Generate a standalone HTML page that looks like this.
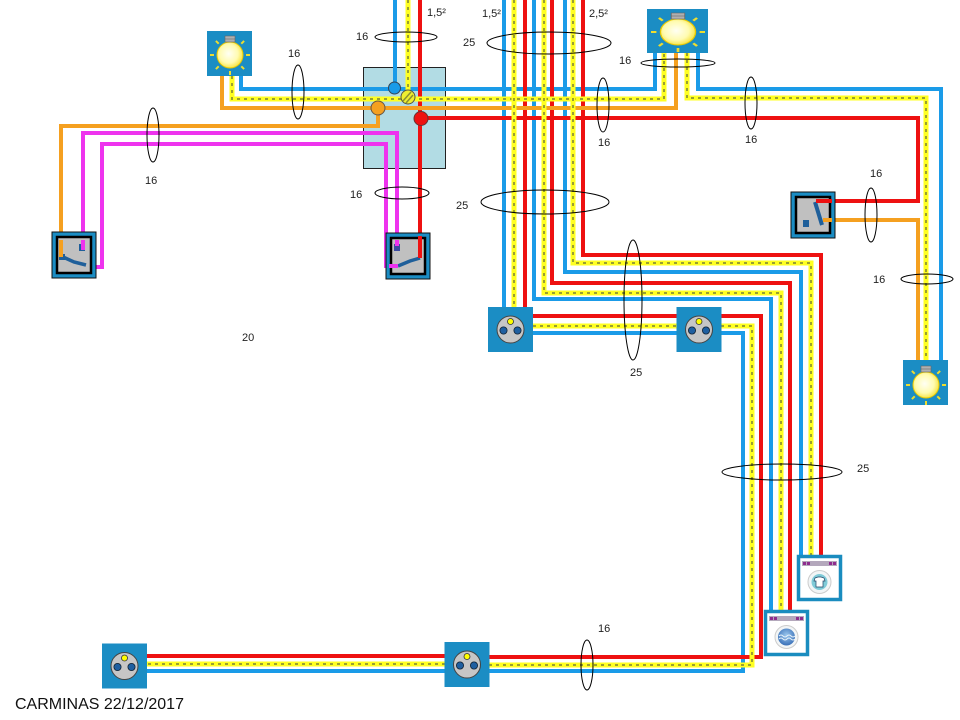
<!DOCTYPE html>
<html><head><meta charset="utf-8">
<style>
html,body{margin:0;padding:0;background:#fff;}
svg{display:block;}
.w{fill:none;stroke-width:4;stroke-linejoin:miter;stroke-linecap:butt;}
.b{stroke:#1a9be8;}
.r{stroke:#ee1111;}
.o{stroke:#f5a020;}
.m{stroke:#ee33ee;}
.y{fill:none;stroke:#ffff22;stroke-width:5;}
.yd{fill:none;stroke:#9aa030;stroke-width:2;stroke-dasharray:3 4;}
.e{fill:none;stroke:#000;stroke-width:1;}
text{font-family:"Liberation Sans",Arial,sans-serif;font-size:11px;fill:#222;}
</style></head>
<body>
<svg width="960" height="720" viewBox="0 0 960 720" xmlns="http://www.w3.org/2000/svg">
<defs>
  <radialGradient id="bg" cx="0.45" cy="0.45" r="0.6">
    <stop offset="0" stop-color="#fffff4"/>
    <stop offset="0.6" stop-color="#fffbb0"/>
    <stop offset="1" stop-color="#f6e030"/>
  </radialGradient>
  <radialGradient id="wg" cx="0.5" cy="0.4" r="0.6">
    <stop offset="0" stop-color="#9cc8ee"/>
    <stop offset="1" stop-color="#3a70b8"/>
  </radialGradient>
  <g id="bulb">
    <g stroke="#eedd30" stroke-width="2">
      <line x1="16" y1="0" x2="20" y2="0"/>
      <line x1="11.3" y1="11.3" x2="14.1" y2="14.1"/>
      <line x1="0" y1="16" x2="0" y2="20"/>
      <line x1="-11.3" y1="11.3" x2="-14.1" y2="14.1"/>
      <line x1="-16" y1="0" x2="-20" y2="0"/>
      <line x1="-11.3" y1="-11.3" x2="-14.1" y2="-14.1"/>
      <line x1="11.3" y1="-11.3" x2="14.1" y2="-14.1"/>
    </g>
    <circle r="13" fill="url(#bg)" stroke="#e8c800" stroke-width="1"/>
    <rect x="-5" y="-19" width="10" height="6" fill="#b0b0b0" stroke="#666" stroke-width="0.6"/>
    <line x1="-5" y1="-16" x2="5" y2="-16" stroke="#666" stroke-width="0.6"/>
  </g>
  <g id="outlet">
    <rect x="-22.5" y="-22.5" width="45" height="45" fill="#1b8dc4"/>
    <circle r="13.5" fill="#c6c6c6" stroke="#444" stroke-width="1"/>
    <circle cx="-7" cy="1" r="3.6" fill="#1f5fa0" stroke="#123" stroke-width="0.8"/>
    <circle cx="7" cy="1" r="3.6" fill="#1f5fa0" stroke="#123" stroke-width="0.8"/>
    <circle cx="0" cy="-8" r="3" fill="#ffff00" stroke="#333" stroke-width="0.8"/>
  </g>
  <g id="sw">
    <rect x="0" y="0" width="44" height="46" fill="#1b8dc4" stroke="#111" stroke-width="1"/>
    <rect x="5" y="5" width="34" height="36" fill="#c0c0c0" stroke="#000" stroke-width="2.5"/>
  </g>
</defs>

<!-- junction box -->
<rect x="363.5" y="67.5" width="82" height="101" fill="#b2dce4" stroke="#222" stroke-width="1"/>

<!-- wires: blue -->
<path class="w b" d="M241,76 V89 H655 V53"/>
<path class="w b" d="M395,0 V88"/>
<path class="w b" d="M698,53 V89 H941 V360"/>
<path class="w b" d="M504,0 V307"/>
<path class="w b" d="M534,0 V299 H771 V610"/>
<path class="w b" d="M565,0 V272 H801 V555"/>
<path class="w b" d="M533,333 H677"/>
<path class="w b" d="M721,333 H743 V671 H489"/>
<path class="w b" d="M445,671 H147"/>

<!-- red -->
<path class="w r" d="M420,0 V258"/>
<path class="w r" d="M421,118 H918 V201 H815"/>
<path class="w r" d="M525,0 V307"/>
<path class="w r" d="M552,0 V283 H790 V610"/>
<path class="w r" d="M583,0 V255 H821 V555"/>
<path class="w r" d="M533,316 H677"/>
<path class="w r" d="M721,316 H761 V657 H489"/>
<path class="w r" d="M445,656 H147"/>

<!-- orange -->
<path class="w o" d="M222,76 V108 H676 V53"/>
<path class="w o" d="M378,108 V126 H61 V257"/>
<path class="w o" d="M823,220 H918 V360"/>

<!-- magenta -->
<path class="w m" d="M83,250 V133 H397 V247"/>
<path class="w m" d="M85,267 H102 V144 H386 V266 H398"/>

<!-- yellow/green -->
<g>
<path class="y" d="M232,76 V99 H664 V53"/><path class="yd" d="M232,76 V99 H664 V53"/>
<path class="y" d="M408,0 V97"/><path class="yd" d="M408,0 V97"/>
<path class="y" d="M687,53 V98 H926 V360"/><path class="yd" d="M687,53 V98 H926 V360"/>
<path class="y" d="M514,0 V307"/><path class="yd" d="M514,0 V307"/>
<path class="y" d="M544,0 V293 H781 V610"/><path class="yd" d="M544,0 V293 H781 V610"/>
<path class="y" d="M573,0 V263 H811 V555"/><path class="yd" d="M573,0 V263 H811 V555"/>
<path class="y" d="M533,326 H677"/><path class="yd" d="M533,326 H677"/>
<path class="y" d="M721,326 H752 V665 H489"/><path class="yd" d="M721,326 H752 V665 H489"/>
<path class="y" d="M445,664 H147"/><path class="yd" d="M445,664 H147"/>
</g>

<!-- junction dots -->
<circle cx="394.5" cy="88" r="6" fill="#1a9be8" stroke="#345" stroke-width="1"/>
<circle cx="408" cy="97" r="7" fill="#eeee30" stroke="#554" stroke-width="1"/>
<path d="M403,101 L411,92 M406,103 L413,95" stroke="#8a9030" stroke-width="1.5"/>
<circle cx="378" cy="108" r="7" fill="#f5a020" stroke="#654" stroke-width="1"/>
<circle cx="421" cy="118.5" r="7" fill="#ee1111" stroke="#633" stroke-width="1"/>

<!-- lamps -->
<rect x="207" y="31" width="45" height="45" fill="#1b8dc4"/>
<use href="#bulb" transform="translate(230,55)"/>
<rect x="647" y="9" width="61" height="44" fill="#1b8dc4"/>
<use href="#bulb" transform="translate(678,32) scale(1.35,1)"/>
<rect x="903" y="360" width="45" height="45" fill="#1b8dc4"/>
<use href="#bulb" transform="translate(926,385)"/>

<!-- switches -->
<use href="#sw" transform="translate(52,232)"/>
<rect x="59" y="254" width="6" height="6" fill="#1f5f9a"/>
<rect x="79" y="244" width="6" height="7" fill="#1f5f9a"/>
<path d="M63,257 L74,262 L86,265" stroke="#1f5f9a" stroke-width="3.5" fill="none"/>
<path class="w o" d="M61,240 V257"/>
<path class="w m" d="M83,240 V250"/>

<use href="#sw" transform="translate(386,233)"/>
<rect x="394" y="244" width="6" height="7" fill="#3a4aa0"/>
<path d="M398,266 L410,261 L420,258" stroke="#1f5f9a" stroke-width="3.5" fill="none"/>
<path class="w m" d="M397,240 V246"/>
<path class="w r" d="M420,236 V258"/>
<path class="w m" d="M389,266 H398"/>

<use href="#sw" transform="translate(791,192)"/>
<rect x="803" y="220" width="6" height="7" fill="#1f5f9a"/>
<path d="M815,202 L822,225" stroke="#1f5f9a" stroke-width="4" fill="none"/>
<path class="w r" d="M816,201 H832"/>
<path class="w o" d="M823,220 H832"/>

<!-- outlets -->
<use href="#outlet" transform="translate(510.5,329.5)"/>
<use href="#outlet" transform="translate(699,329.5)"/>
<use href="#outlet" transform="translate(124.5,666)"/>
<use href="#outlet" transform="translate(467,664.5)"/>

<!-- washer 1 (dryer) -->
<rect x="798.5" y="556.5" width="42" height="43" fill="#fff" stroke="#1a8cbf" stroke-width="3.5"/>
<rect x="802" y="561" width="35" height="5" fill="#b4a8bc"/>
<rect x="803" y="562" width="3" height="3" fill="#8e2d8e"/>
<rect x="807" y="562" width="3" height="3" fill="#8e2d8e"/>
<rect x="829" y="562" width="3" height="3" fill="#8e2d8e"/>
<rect x="833" y="562" width="3" height="3" fill="#8e2d8e"/>
<circle cx="819.5" cy="582" r="11.5" fill="#f2f5f6" stroke="#ccc" stroke-width="1"/>
<circle cx="819.5" cy="582" r="8" fill="#80cbd8"/>
<path d="M815,578 L818,577 H821 L824,578 L825,581 L823,581 V587 H816 V581 L814,581 Z" fill="#fff" stroke="#246" stroke-width="0.7"/>

<!-- washer 2 -->
<rect x="765.5" y="611.5" width="42" height="43" fill="#fff" stroke="#1a8cbf" stroke-width="3.5"/>
<rect x="769" y="616" width="35" height="5" fill="#b4a8bc"/>
<rect x="770" y="617" width="3" height="3" fill="#8e2d8e"/>
<rect x="774" y="617" width="3" height="3" fill="#8e2d8e"/>
<rect x="796" y="617" width="3" height="3" fill="#8e2d8e"/>
<rect x="800" y="617" width="3" height="3" fill="#8e2d8e"/>
<circle cx="786.5" cy="637" r="11.5" fill="#f2f5f6" stroke="#ccc" stroke-width="1"/>
<circle cx="786.5" cy="637" r="8.5" fill="url(#wg)"/>
<path d="M779,636 q2,-2 4,0 t4,0 t4,0 t4,0" stroke="#e8f2fa" stroke-width="1" fill="none"/>
<path d="M779,639 q2,-2 4,0 t4,0 t4,0 t4,0" stroke="#e8f2fa" stroke-width="1" fill="none"/>

<!-- ellipses -->
<ellipse class="e" cx="406" cy="37" rx="31" ry="5"/>
<ellipse class="e" cx="298" cy="92" rx="6" ry="27"/>
<ellipse class="e" cx="153" cy="135" rx="6" ry="27"/>
<ellipse class="e" cx="402" cy="193" rx="27" ry="6"/>
<ellipse class="e" cx="549" cy="43" rx="62" ry="11"/>
<ellipse class="e" cx="545" cy="202" rx="64" ry="12"/>
<ellipse class="e" cx="678" cy="63" rx="37" ry="4"/>
<ellipse class="e" cx="603" cy="105" rx="6" ry="27"/>
<ellipse class="e" cx="751" cy="103" rx="6" ry="26"/>
<ellipse class="e" cx="871" cy="215" rx="6" ry="27"/>
<ellipse class="e" cx="927" cy="279" rx="26" ry="5"/>
<ellipse class="e" cx="633" cy="300" rx="9" ry="60"/>
<ellipse class="e" cx="782" cy="472" rx="60" ry="8"/>
<ellipse class="e" cx="587" cy="665" rx="6" ry="25"/>

<!-- labels -->
<text x="427" y="16">1,5²</text>
<text x="482" y="17">1,5²</text>
<text x="589" y="17">2,5²</text>
<text x="356" y="40">16</text>
<text x="288" y="57">16</text>
<text x="463" y="46">25</text>
<text x="619" y="64">16</text>
<text x="598" y="146">16</text>
<text x="745" y="143">16</text>
<text x="870" y="177">16</text>
<text x="145" y="184">16</text>
<text x="350" y="198">16</text>
<text x="456" y="209">25</text>
<text x="873" y="283">16</text>
<text x="242" y="341">20</text>
<text x="630" y="376">25</text>
<text x="857" y="472">25</text>
<text x="598" y="632">16</text>
<text x="15" y="709" style="font-size:16px;fill:#111">CARMINAS 22/12/2017</text>
</svg>
</body></html>
